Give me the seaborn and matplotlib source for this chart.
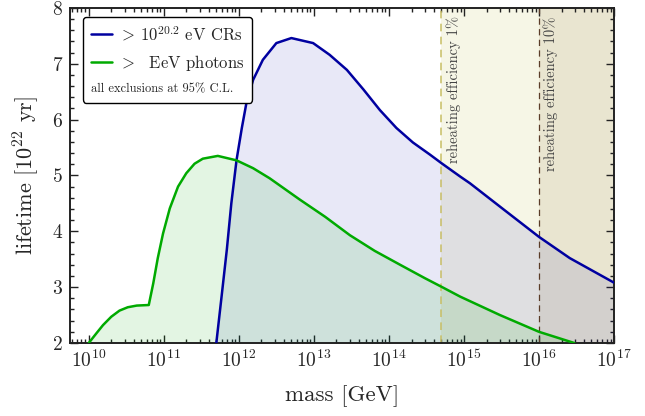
import numpy as np
import pandas as pd
import seaborn as sns
import matplotlib
matplotlib.use("Agg")
import matplotlib.pyplot as plt
from matplotlib.ticker import MultipleLocator, LogLocator

# ---- data (log10 of mass in GeV, lifetime in 1e22 yr) ----
cr_logm = [11.70, 11.77, 11.84, 11.90, 11.97, 12.04, 12.10, 12.19,
           12.32, 12.50, 12.70, 12.99, 13.21, 13.44, 13.66, 13.88, 14.10,
           14.32, 14.55, 14.70, 14.95, 15.08, 15.52, 16.00, 16.41, 17.00]
cr_life = [2.00, 2.83, 3.67, 4.50, 5.28, 5.85, 6.29, 6.71,
           7.07, 7.37, 7.46, 7.37, 7.16, 6.89, 6.54, 6.17, 5.85,
           5.59, 5.37, 5.22, 4.98, 4.86, 4.40, 3.90, 3.52, 3.08]

ph_logm = [10.00, 10.10, 10.19, 10.30, 10.41, 10.52, 10.64, 10.80, 10.86,
           10.92, 10.99, 11.08, 11.19, 11.30, 11.41, 11.52, 11.72, 11.97,
           12.19, 12.41, 12.81, 13.15, 13.48, 13.81, 14.15, 14.48, 14.71,
           14.95, 15.48, 16.00, 16.47]
ph_life = [2.00, 2.17, 2.32, 2.47, 2.58, 2.64, 2.67, 2.68, 3.07,
           3.52, 3.96, 4.41, 4.80, 5.04, 5.21, 5.30, 5.35, 5.27,
           5.13, 4.95, 4.57, 4.26, 3.93, 3.65, 3.40, 3.16, 3.00,
           2.83, 2.50, 2.20, 2.00]

reheat_mass = [5e14, 1e16]
reheat_labels = ["reheating efficiency 1%", "reheating efficiency 10%"]
xticks = [1e10, 1e11, 1e12, 1e13, 1e14, 1e15, 1e16, 1e17]
xlim = [10**9.75, 1e17]
ylim = [2, 8]

cr_label = r"$>\,10^{20.2}$ eV CRs"
ph_label = r"$>$  EeV photons"
note = "all exclusions at 95% C.L."

sns.set_theme(style="ticks")
plt.rcParams["font.family"] = ["serif"]
plt.rcParams["font.serif"] = ["cmr10", "DejaVu Serif"]
plt.rcParams["mathtext.fontset"] = "cm"
plt.rcParams["axes.formatter.use_mathtext"] = True

cr = pd.DataFrame({"mass": np.power(10.0, cr_logm), "life": cr_life})
ph = pd.DataFrame({"mass": np.power(10.0, ph_logm), "life": ph_life})

fig = plt.figure(figsize=(6.45, 4.16), dpi=100)
ax = fig.add_axes([0.1085, 0.1755, 0.8435, 0.8055])
ax.set_xscale("log")

# reheating regions
ax.axvspan(reheat_mass[0], xlim[1], color="#cccc66", alpha=0.16, lw=0, zorder=0)
ax.axvspan(reheat_mass[1], xlim[1], color="#806020", alpha=0.11, lw=0, zorder=0)

# fills
ax.fill_between(cr["mass"], ylim[0], cr["life"], color="#0000b0", alpha=0.09, lw=0, zorder=1)
ax.fill_between(ph["mass"], ylim[0], ph["life"], color="#00aa00", alpha=0.11, lw=0, zorder=1)

sns.lineplot(data=cr, x="mass", y="life", sort=False, color="#0000a0", lw=1.8,
             ax=ax, label=cr_label, zorder=3)
sns.lineplot(data=ph, x="mass", y="life", sort=False, color="#00aa00", lw=1.8,
             ax=ax, label=ph_label, zorder=3)
for ln in ax.lines:
    ln.set_solid_joinstyle("round")

ax.axvline(reheat_mass[0], color="#c8be64", ls=(0, (5, 3.5)), lw=1.1, zorder=2)
ax.axvline(reheat_mass[1], color="#5a3c28", ls=(0, (5, 3.5)), lw=0.9, zorder=2)
for xm, txt in zip(reheat_mass, reheat_labels):
    ax.text(xm * 1.15, 7.85, txt, rotation=90, va="top", ha="left",
            fontsize=10.5, color="#444444", zorder=4)

ax.set_xlim(*xlim)
ax.set_ylim(*ylim)
ax.set_xticks(xticks)
ax.yaxis.set_major_locator(MultipleLocator(1))
ax.yaxis.set_minor_locator(MultipleLocator(0.2))
ax.xaxis.set_minor_locator(LogLocator(base=10, subs=np.arange(2, 10), numticks=20))
ax.set_xlim(*xlim)
ax.tick_params(which="both", direction="in", top=True, right=True, width=1.0, color="#222222")
ax.tick_params(which="major", length=6, labelsize=14, pad=5)
ax.tick_params(which="minor", length=3)
for s in ax.spines.values():
    s.set_linewidth(1.4)
    s.set_color("#222222")

ax.set_xlabel("mass [GeV]", fontsize=16.5, labelpad=10)
ax.set_ylabel(r"lifetime [$10^{22}$ yr]", fontsize=16, labelpad=8)

leg = ax.legend(loc="upper left", bbox_to_anchor=(0.024, 0.973), borderaxespad=0,
                fontsize=12, title=note, title_fontsize=9, alignment="left",
                frameon=True, fancybox=True, edgecolor="black", framealpha=1,
                handlelength=1.3, handletextpad=0.4, borderpad=0.45, labelspacing=0.6)
leg.get_frame().set_linewidth(1.0)
box = leg._legend_box
kids = box.get_children()
box._children = [kids[1], kids[0]]
box.align = "left"

fig.savefig("out.png", dpi=100)
